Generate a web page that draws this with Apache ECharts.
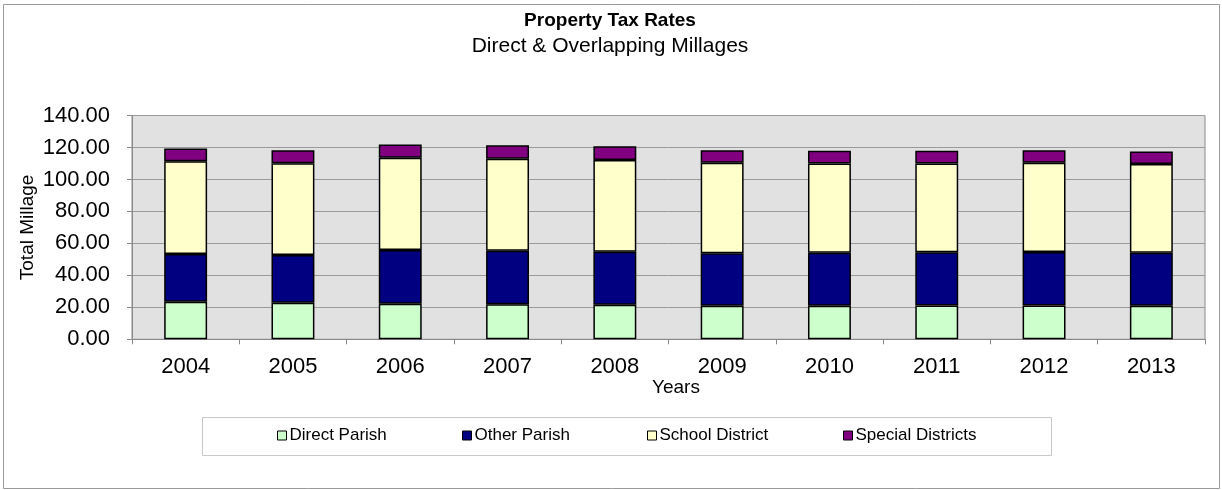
<!DOCTYPE html>
<html>
<head>
<meta charset="utf-8">
<script src="https://cdn.jsdelivr.net/npm/echarts@6/dist/echarts.min.js"></script>
<style>
  html, body { margin: 0; padding: 0; background: #ffffff; }
  #chart { width: 1222px; height: 490px; }
</style>
</head>
<body>
<div id="chart"></div>
<script>
// Tax years and millage components (mills)
const years = ['2004', '2005', '2006', '2007', '2008', '2009', '2010', '2011', '2012', '2013'];
const directParish    = [23.5, 22.9, 22.3, 21.9, 21.6, 21.0, 21.0, 21.2, 21.2, 21.0];
const otherParish     = [29.8, 29.8, 33.5, 33.5, 33.2, 32.9, 33.1, 33.2, 33.4, 33.1];
const schoolDistrict  = [58.1, 57.5, 57.7, 57.5, 57.3, 56.5, 55.9, 55.6, 55.8, 55.5];
const specialDistricts = [8.0, 8.1, 8.4, 8.5, 8.7, 7.9, 7.9, 7.9, 7.9, 7.9];

const seriesNames = ['Direct Parish', 'Other Parish', 'School District', 'Special Districts'];
const seriesColors = ['#CCFFCC', '#000080', '#FFFFCC', '#800080'];
const seriesData = [directParish, otherParish, schoolDistrict, specialDistricts];

const FONT = '"Liberation Sans", Arial, sans-serif';
const legendLeft = [277, 462, 647, 843];

const chart = echarts.init(document.getElementById('chart'), null, { renderer: 'canvas' });

chart.setOption({
  backgroundColor: '#ffffff',
  animation: false,
  title: {
    text: 'Property Tax Rates',
    subtext: 'Direct & Overlapping Millages',
    left: 610,
    textAlign: 'center',
    top: 11,
    padding: 0,
    itemGap: 5,
    textStyle: { fontFamily: FONT, fontSize: 19, fontWeight: 'bold', color: '#000', lineHeight: 20 },
    subtextStyle: { fontFamily: FONT, fontSize: 21, color: '#000', lineHeight: 21 }
  },
  graphic: [
    {
      type: 'rect', z: -10,
      shape: { x: 3.5, y: 4.5, width: 1216, height: 484 },
      style: { fill: 'none', stroke: '#9a9a9a', lineWidth: 1 }
    },
    {
      type: 'rect', z: -10,
      shape: { x: 202.5, y: 417.5, width: 849, height: 38 },
      style: { fill: '#ffffff', stroke: '#c8c8c8', lineWidth: 1 }
    }
  ],
  legend: seriesNames.map((name, i) => ({
    data: [name],
    left: legendLeft[i],
    top: 427,
    padding: 0,
    icon: 'rect',
    itemWidth: 9,
    itemHeight: 9,
    itemStyle: { borderColor: '#000', borderWidth: 1 },
    textStyle: { fontFamily: FONT, fontSize: 17, color: '#000', padding: [0, 0, 0, -2] },
    selectedMode: false
  })),
  grid: {
    left: 132,
    top: 115.5,
    right: 17,
    bottom: 150.7,
    containLabel: false,
    outerBoundsMode: 'none',
    show: true,
    backgroundColor: '#E1E1E1',
    borderColor: '#8a8a8a',
    borderWidth: 1
  },
  xAxis: {
    type: 'category',
    data: years,
    name: 'Years',
    nameLocation: 'middle',
    nameGap: 39,
    nameMoveOverlap: false,
    nameTextStyle: { fontFamily: FONT, fontSize: 19, color: '#000', padding: [0, 0, 0, 15] },
    axisLine: { show: true, lineStyle: { color: '#8a8a8a', width: 1 } },
    axisTick: { show: true, length: 5, lineStyle: { color: '#8a8a8a' } },
    axisLabel: { fontFamily: FONT, fontSize: 22, color: '#000', margin: 17 },
    splitLine: { show: false }
  },
  yAxis: {
    type: 'value',
    min: 0,
    max: 140,
    interval: 20,
    name: 'Total Millage',
    nameLocation: 'middle',
    nameGap: 95,
    nameMoveOverlap: false,
    nameTextStyle: { fontFamily: FONT, fontSize: 19, color: '#000' },
    axisLine: { show: true, lineStyle: { color: '#8a8a8a', width: 1 } },
    axisTick: { show: true, length: 5, lineStyle: { color: '#8a8a8a' } },
    axisLabel: {
      fontFamily: FONT, fontSize: 22, color: '#000', margin: 22,
      formatter: v => v.toFixed(2)
    },
    splitLine: { show: true, lineStyle: { color: '#9a9a9a', width: 1 } }
  },
  series: seriesNames.map((name, i) => ({
    name: name,
    type: 'bar',
    stack: 'millage',
    barWidth: '40%',
    data: seriesData[i],
    itemStyle: { color: seriesColors[i], borderColor: '#000', borderWidth: 1.5 },
    emphasis: { disabled: true }
  }))
});
</script>
</body>
</html>
